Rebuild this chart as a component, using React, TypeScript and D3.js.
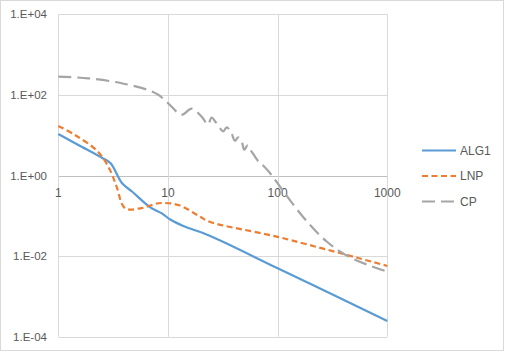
import React from "react";
import * as d3 from "d3";

const xALG1 = [1, 1.6, 2.5, 3.0, 3.8, 4.7, 6.9, 8.8, 10.4, 13.8, 24, 100, 300, 1000];
const yALG1 = [10.7, 5.3, 2.76, 2.0, 0.65, 0.40, 0.162, 0.115, 0.082, 0.056, 0.032, 0.005, 0.0012, 0.000245];

const xLNP = [1, 1.42, 2.3, 2.96, 3.4, 4.06, 5.75, 8.2, 12.4, 19.6, 24, 100, 1000];
const yLNP = [17, 10.1, 3.9, 1.37, 0.53, 0.155, 0.155, 0.205, 0.186, 0.095, 0.071, 0.03, 0.0057];

const xCP = [1, 1.88, 3.78, 6.6, 8.2, 10.06, 13.33, 16.44, 20.41, 23.15, 25.02, 27.39, 31.92, 34.29, 37.53, 40.82, 43.74, 46.97, 49.6, 53.3, 57.1, 62.1, 66.6, 72.4, 85.1, 94.5, 170, 280, 457, 1000];
const yCP = [283, 258, 195, 132, 100, 61.9, 32.3, 45.5, 28.3, 18.4, 27.5, 20.7, 12.5, 15.7, 12.0, 7.3, 8.87, 7.06, 4.37, 5.61, 4.12, 2.96, 2.25, 1.85, 1.15, 0.787, 0.095, 0.023, 0.0093, 0.0041];

const xTicks = [1, 10, 100, 1000];
const xTickLabels = ["1", "10", "100", "1000"];
const yTicks = [1e4, 1e2, 1, 1e-2, 1e-4];
const yTickLabels = ["1.E+04", "1.E+02", "1.E+00", "1.E-02", "1.E-04"];

const seriesNames = ["ALG1", "LNP", "CP"];
const seriesColors = ["#5B9BD5", "#ED7D31", "#A5A5A5"];
const seriesDash = ["none", "6,3.5", "13,6"];

export default function App() {
  const W = 505, H = 352;
  const x = d3.scaleLog().domain([1, 1000]).range([58.3, 387.3]);
  const y = d3.scaleLog().domain([1e-4, 1e4]).range([336.7, 14.3]);
  const line = d3
    .line<[number, number]>()
    .x((d) => x(d[0]))
    .y((d) => y(d[1]))
    .curve(d3.curveCatmullRom.alpha(0.5));
  const data: [number, number][][] = [
    xALG1.map((v, i) => [v, yALG1[i]] as [number, number]),
    xLNP.map((v, i) => [v, yLNP[i]] as [number, number]),
    xCP.map((v, i) => [v, yCP[i]] as [number, number]),
  ];
  const font = "'Liberation Sans', Arial, sans-serif";
  const legendY = [150.5, 176, 201.5];
  return (
    <svg
      width={W}
      height={H}
      style={{ position: "absolute", left: 0, top: 0 }}
      fontFamily={font}
    >
      <rect x={0} y={0} width={W} height={H} fill="#fff" />
      <rect x={0.5} y={0.5} width={503} height={350} fill="none" stroke="#d9d9d9" />
      {yTicks.map((t) => (
        <line key={"h" + t} x1={x(1)} x2={x(1000)} y1={Math.round(y(t)) + 0.5} y2={Math.round(y(t)) + 0.5} stroke={t === 1 ? "#bfbfbf" : "#d9d9d9"} strokeWidth={1} />
      ))}
      {xTicks.map((t) => (
        <line key={"v" + t} x1={Math.round(x(t)) + 0.5} x2={Math.round(x(t)) + 0.5} y1={y(1e4)} y2={y(1e-4)} stroke="#d9d9d9" strokeWidth={1} />
      ))}
      {yTicks.map((t, i) => (
        <text key={"yl" + t} x={47} y={y(t) + 4} textAnchor="end" fontSize={11.5} fill="#595959">
          {yTickLabels[i]}
        </text>
      ))}
      {xTicks.map((t, i) => (
        <text key={"xl" + t} x={x(t)} y={y(1) + 21} textAnchor="middle" fontSize={12} fill="#595959">
          {xTickLabels[i]}
        </text>
      ))}
      {data.map((d, i) => (
        <path key={"s" + i} d={line(d) || ""} fill="none" stroke={seriesColors[i]} strokeWidth={2.2} strokeDasharray={seriesDash[i]} strokeLinejoin="round" />
      ))}
      {seriesNames.map((n, i) => (
        <g key={"lg" + n}>
          <line x1={422} x2={456} y1={legendY[i]} y2={legendY[i]} stroke={seriesColors[i]} strokeWidth={2.2} strokeDasharray={seriesDash[i]} />
          <text x={460} y={legendY[i] + 4.3} fontSize={12} fill="#595959">
            {n}
          </text>
        </g>
      ))}
    </svg>
  );
}
